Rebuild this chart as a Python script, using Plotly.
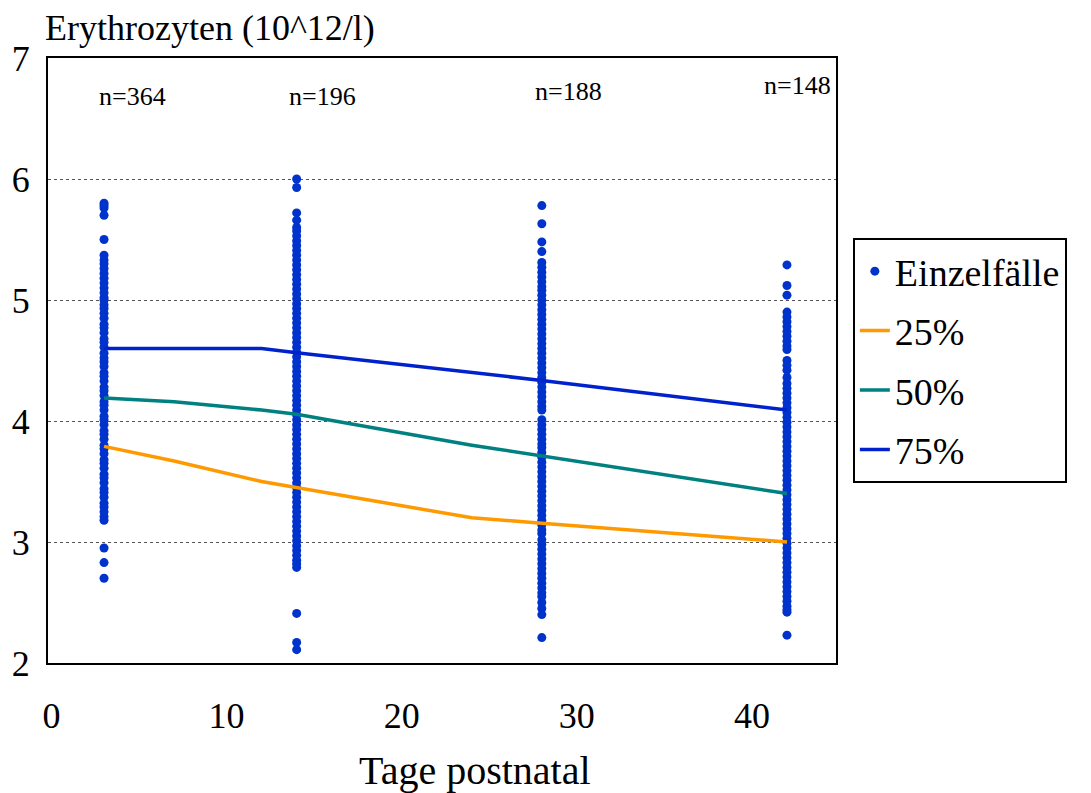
import plotly.graph_objects as go

# Sampling days and individual red-cell counts (10^12/l) per day
days = [3, 14, 28, 42]
counts_n = [364, 196, 188, 148]

day3_values = [
    5.80, 5.78, 5.76, 5.70, 5.50, 5.37, 5.33, 5.30, 5.26, 5.22, 5.18, 5.14,
    5.10, 5.06, 5.02, 5.00, 4.96, 4.93, 4.89, 4.85, 4.80, 4.77, 4.73, 4.68,
    4.65, 4.61, 4.56, 4.52, 4.49, 4.45, 4.40, 4.37, 4.33, 4.28, 4.25, 4.21,
    4.16, 4.13, 4.09, 4.04, 4.01, 3.97, 3.92, 3.89, 3.85, 3.80, 3.77, 3.73,
    3.68, 3.65, 3.61, 3.56, 3.53, 3.49, 3.44, 3.41, 3.37, 3.32, 3.29, 3.25,
    3.21, 3.18, 2.95, 2.83, 2.70,
]
day14_values = [
    6.00, 5.93, 5.72, 5.66, 5.60, 5.57, 5.53, 5.49, 5.45, 5.41, 5.37, 5.33,
    5.29, 5.25, 5.21, 5.17, 5.13, 5.09, 5.05, 5.01, 4.97, 4.93, 4.89, 4.85,
    4.81, 4.77, 4.73, 4.69, 4.65, 4.61, 4.57, 4.53, 4.49, 4.45, 4.41, 4.37,
    4.33, 4.29, 4.25, 4.21, 4.17, 4.13, 4.09, 4.05, 4.01, 3.97, 3.93, 3.89,
    3.85, 3.81, 3.77, 3.73, 3.69, 3.65, 3.61, 3.57, 3.53, 3.49, 3.45, 3.41,
    3.37, 3.33, 3.29, 3.25, 3.21, 3.17, 3.13, 3.09, 3.05, 3.01, 2.97, 2.93,
    2.89, 2.85, 2.82, 2.79, 2.41, 2.17, 2.11,
]
day28_values = [
    5.78, 5.63, 5.48, 5.40, 5.31, 5.27, 5.23, 5.19, 5.15, 5.11, 5.08, 5.04,
    5.00, 4.96, 4.92, 4.88, 4.84, 4.80, 4.76, 4.72, 4.68, 4.64, 4.60, 4.56,
    4.52, 4.48, 4.44, 4.40, 4.36, 4.32, 4.28, 4.24, 4.20, 4.16, 4.12, 4.09,
    4.01, 3.97, 3.93, 3.89, 3.85, 3.81, 3.78, 3.74, 3.70, 3.66, 3.62, 3.58,
    3.54, 3.50, 3.46, 3.42, 3.38, 3.34, 3.30, 3.26, 3.22, 3.18, 3.14, 3.10,
    3.07, 3.02, 2.98, 2.94, 2.90, 2.86, 2.82, 2.78, 2.74, 2.70, 2.66, 2.62,
    2.58, 2.55, 2.50, 2.45, 2.40, 2.21,
]
day42_values = [
    5.29, 5.12, 5.04, 4.90, 4.86, 4.82, 4.78, 4.74, 4.70, 4.66, 4.62, 4.59,
    4.50, 4.46, 4.42, 4.36, 4.31, 4.27, 4.23, 4.19, 4.15, 4.11, 4.07, 4.03,
    3.99, 3.95, 3.91, 3.87, 3.83, 3.79, 3.75, 3.71, 3.67, 3.63, 3.59, 3.55,
    3.51, 3.47, 3.43, 3.39, 3.35, 3.31, 3.27, 3.23, 3.19, 3.15, 3.11, 3.07,
    3.03, 2.99, 2.95, 2.91, 2.87, 2.83, 2.79, 2.75, 2.71, 2.67, 2.63, 2.59,
    2.55, 2.51, 2.47, 2.44, 2.42, 2.23,
]
values_by_day = [day3_values, day14_values, day28_values, day42_values]

# Percentile curves
p_days = [3, 7, 12, 14, 24, 28, 42]
p25 = [3.79, 3.67, 3.50, 3.45, 3.20, 3.155, 3.00]
p50 = [4.19, 4.16, 4.09, 4.055, 3.80, 3.71, 3.40]
p75 = [4.60, 4.60, 4.60, 4.565, 4.40, 4.335, 4.09]

# Axis ticks
x_ticks = [0, 10, 20, 30, 40]
y_ticks = [2, 3, 4, 5, 6, 7]

POINT_BLUE = "#0033cc"
SERIF = "Liberation Serif"

xs, ys = [], []
for d, vals in zip(days, values_by_day):
    xs.extend([d] * len(vals))
    ys.extend(vals)

fig = go.Figure()
fig.add_trace(go.Scatter(
    x=xs, y=ys, mode="markers", name="Einzelfälle",
    marker=dict(color=POINT_BLUE, size=9, line=dict(width=0)),
    legendgroup="a",
))
for name, vals, col in [("25%", p25, "#ff9900"),
                        ("50%", p50, "#008080"),
                        ("75%", p75, "#0022cc")]:
    fig.add_trace(go.Scatter(
        x=p_days, y=vals, mode="lines", name=name,
        line=dict(color=col, width=3.5), legendgroup=name,
    ))

# sample sizes above each column
n_pos = [(4.6, 6.68), (15.5, 6.68), (29.5, 6.72), (42.6, 6.77)]
for n, (px, py) in zip(counts_n, n_pos):
    fig.add_annotation(x=px, y=py, xref="x", yref="y", text=f"n={n}",
                       showarrow=False, font=dict(family=SERIF, size=26, color="black"))

fig.add_annotation(x=-0.006, y=1.05, xref="paper", yref="paper", xanchor="left",
                   yanchor="middle", text="Erythrozyten (10^12/l)", showarrow=False,
                   font=dict(family=SERIF, size=36, color="black"))
fig.add_annotation(x=0.542, y=-0.177, xref="paper", yref="paper", xanchor="center",
                   yanchor="middle", text="Tage postnatal", showarrow=False,
                   font=dict(family=SERIF, size=40, color="black"))

fig.update_layout(
    width=1091, height=793,
    margin=dict(l=42, r=255, t=58, b=130),
    paper_bgcolor="white", plot_bgcolor="white",
    font=dict(family=SERIF, color="black"),
    showlegend=True,
    legend=dict(x=1.0214, y=0.7025, xanchor="left", yanchor="top",
                bordercolor="black", borderwidth=2, bgcolor="white",
                font=dict(family=SERIF, size=38, color="black"),
                tracegroupgap=7),
    xaxis=dict(range=[-0.2, 44.8], tickvals=x_ticks, showgrid=False, zeroline=False,
               showline=True, linecolor="black", linewidth=2, mirror=True,
               ticks="outside", ticklen=20, tickcolor="rgba(0,0,0,0)",
               tickfont=dict(family=SERIF, size=36, color="black")),
    yaxis=dict(range=[2, 7], tickvals=y_ticks, showgrid=True, gridcolor="#555555",
               griddash="dot", gridwidth=1, zeroline=False,
               showline=True, linecolor="black", linewidth=2, mirror=True,
               ticks="outside", ticklen=9, tickcolor="rgba(0,0,0,0)",
               tickfont=dict(family=SERIF, size=36, color="black")),
)

fig.write_html("out.html")
